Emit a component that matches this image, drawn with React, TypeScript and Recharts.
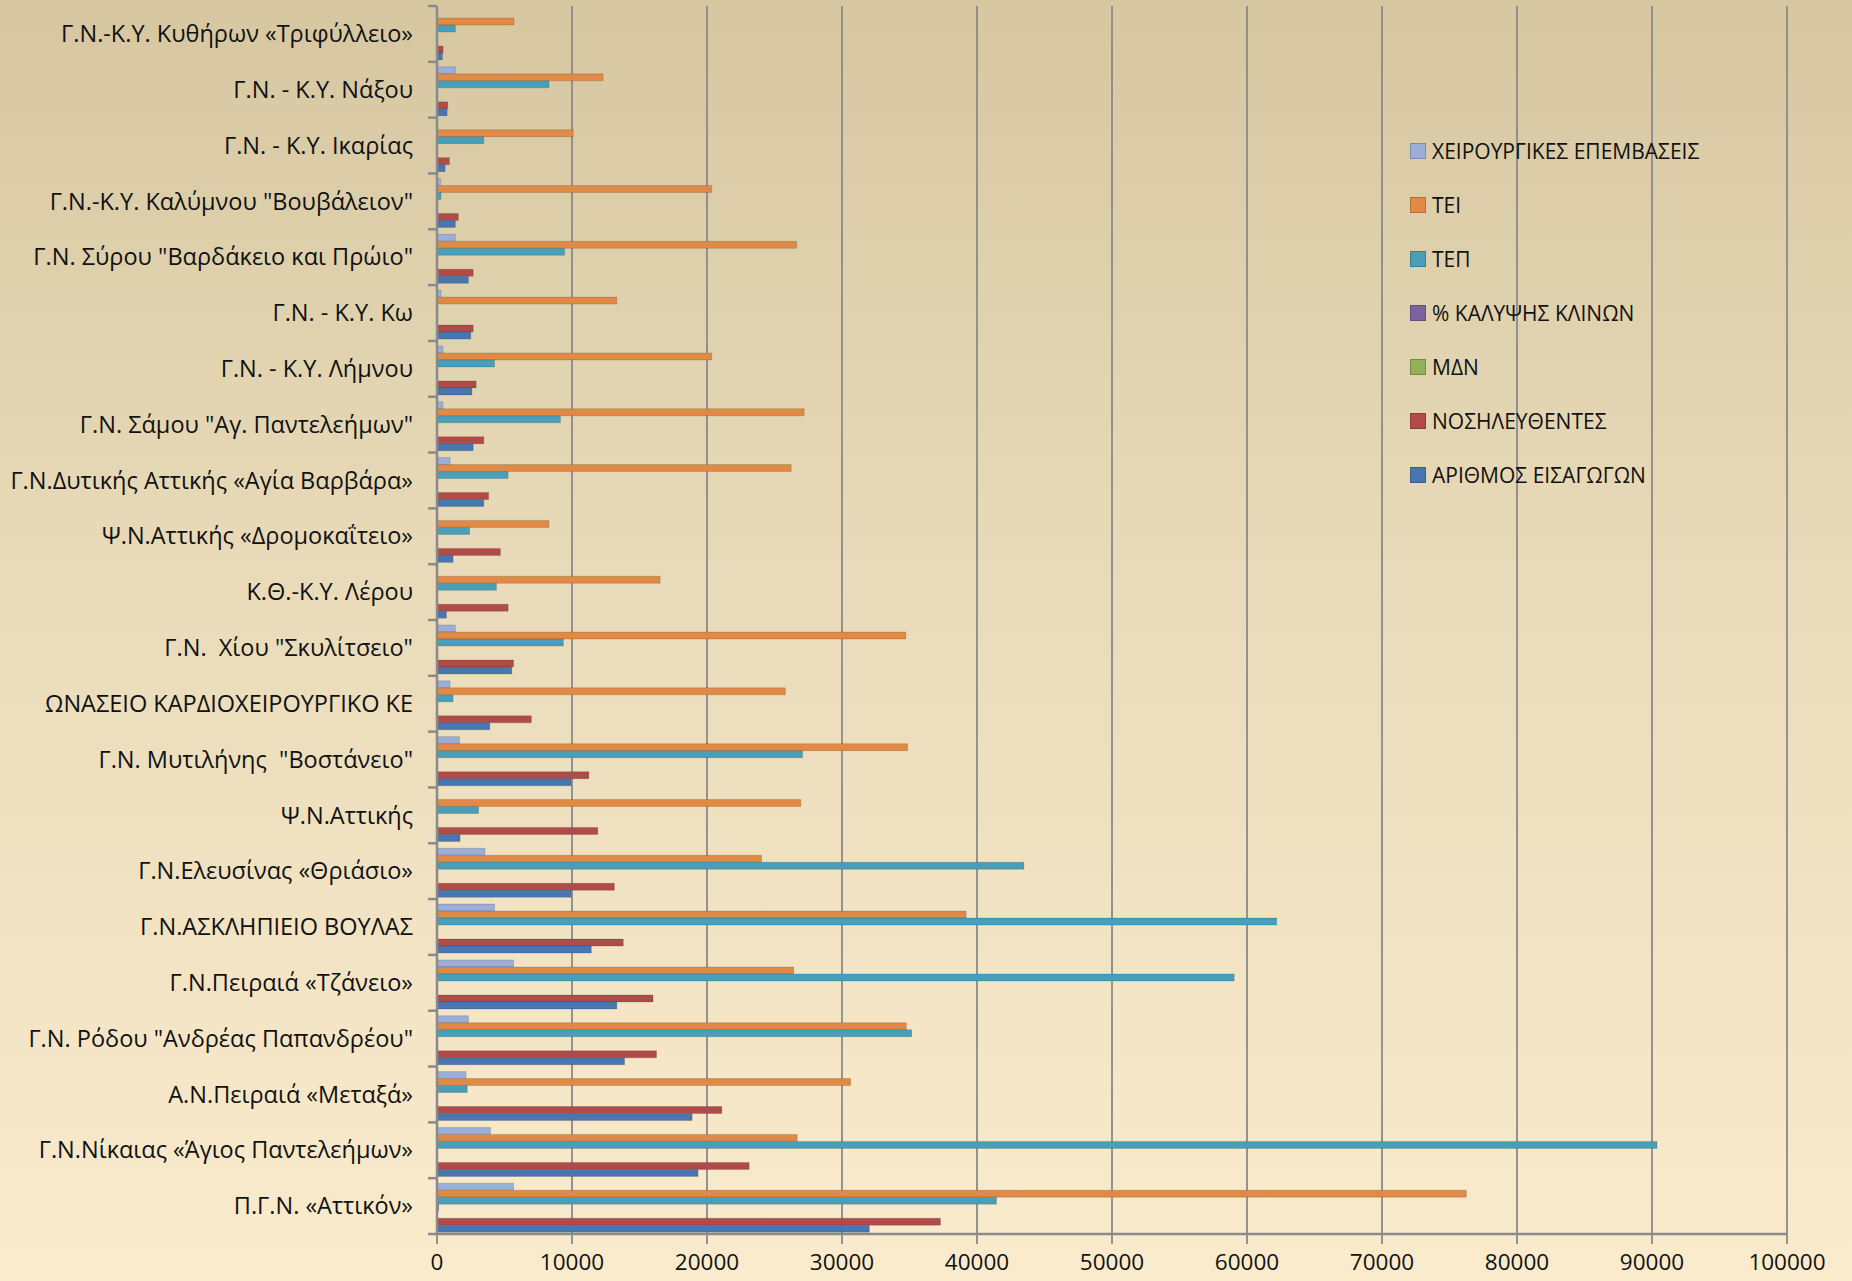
import { BarChart, Bar, XAxis, YAxis, CartesianGrid, Legend } from "recharts";

const hospitals = [
  "Γ.Ν.-Κ.Υ. Κυθήρων «Τριφύλλειο»",
  "Γ.Ν. - Κ.Υ. Νάξου",
  "Γ.Ν. - Κ.Υ. Ικαρίας",
  'Γ.Ν.-Κ.Υ. Καλύμνου "Βουβάλειον"',
  'Γ.Ν. Σύρου "Βαρδάκειο και Πρώιο"',
  "Γ.Ν. - Κ.Υ. Κω",
  "Γ.Ν. - Κ.Υ. Λήμνου",
  'Γ.Ν. Σάμου "Αγ. Παντελεήμων"',
  "Γ.Ν.Δυτικής Αττικής «Αγία Βαρβάρα»",
  "Ψ.Ν.Αττικής «Δρομοκαΐτειο»",
  "Κ.Θ.-Κ.Υ. Λέρου",
  'Γ.Ν.  Χίου "Σκυλίτσειο"',
  "ΩΝΑΣΕΙΟ ΚΑΡΔΙΟΧΕΙΡΟΥΡΓΙΚΟ ΚΕ",
  'Γ.Ν. Μυτιλήνης  "Βοστάνειο"',
  "Ψ.Ν.Αττικής",
  "Γ.Ν.Ελευσίνας «Θριάσιο»",
  "Γ.Ν.ΑΣΚΛΗΠΙΕΙΟ ΒΟΥΛΑΣ",
  "Γ.Ν.Πειραιά «Τζάνειο»",
  'Γ.Ν. Ρόδου "Ανδρέας Παπανδρέου"',
  "Α.Ν.Πειραιά «Μεταξά»",
  "Γ.Ν.Νίκαιας «Άγιος Παντελεήμων»",
  "Π.Γ.Ν. «Αττικόν»",
];

const surgeries = [0, 1360, 0, 260, 1360, 300, 440, 440, 970, 0, 0, 1360, 970, 1670, 0, 3560, 4260, 5670, 2330, 2150, 3960, 5670];
const tei = [5700, 12300, 10100, 20350, 26640, 13320, 20350, 27200, 26240, 8300, 16530, 34730, 25800, 34860, 26950, 24040, 39200, 26420, 34770, 30640, 26680, 76250];
const tep = [1360, 8300, 3470, 300, 9450, 0, 4260, 9140, 5270, 2420, 4400, 9360, 1190, 27080, 3080, 43480, 62200, 59050, 35160, 2240, 90370, 41440];
const bedCoverage = [0, 0, 0, 0, 0, 0, 0, 0, 0, 0, 0, 0, 0, 0, 0, 0, 0, 0, 0, 0, 0, 120];
const mdn = [0, 0, 0, 0, 0, 0, 0, 0, 0, 0, 0, 0, 0, 0, 0, 0, 0, 0, 0, 0, 0, 0];
const inpatients = [450, 800, 920, 1580, 2680, 2680, 2900, 3470, 3820, 4700, 5270, 5670, 6990, 11250, 11910, 13140, 13800, 16000, 16260, 21100, 23120, 37290];
const admissions = [400, 750, 600, 1360, 2330, 2500, 2590, 2680, 3470, 1190, 700, 5540, 3910, 9930, 1710, 9930, 11430, 13320, 13890, 18900, 19340, 32030];

const xTicks = [0, 10000, 20000, 30000, 40000, 50000, 60000, 70000, 80000, 90000, 100000];

const SERIES = [
  { key: "surgeries", name: "ΧΕΙΡΟΥΡΓΙΚΕΣ ΕΠΕΜΒΑΣΕΙΣ", color: "#9AAED9", values: surgeries },
  { key: "tei", name: "ΤΕΙ", color: "#E08A45", values: tei },
  { key: "tep", name: "ΤΕΠ", color: "#4A9FB8", values: tep },
  { key: "beds", name: "% ΚΑΛΥΨΗΣ ΚΛΙΝΩΝ", color: "#7D62A0", values: bedCoverage },
  { key: "mdn", name: "ΜΔΝ", color: "#93B05A", values: mdn },
  { key: "inpatients", name: "ΝΟΣΗΛΕΥΘΕΝΤΕΣ", color: "#B04B4A", values: inpatients },
  { key: "admissions", name: "ΑΡΙΘΜΟΣ ΕΙΣΑΓΩΓΩΝ", color: "#4A76B0", values: admissions },
];

const data = hospitals.map((name, i) => {
  const row: Record<string, string | number> = { name };
  SERIES.forEach((s) => {
    row[s.key] = s.values[i];
  });
  return row;
});

const WIDTH = 1852;
const HEIGHT = 1281;
const MARGIN = { top: 6, right: 65, bottom: 0, left: 0 };
const X_AXIS_H = 47;
const BAND = (HEIGHT - MARGIN.top - MARGIN.bottom - X_AXIS_H) / hospitals.length;
const FONT = "'Open Sans', 'DejaVu Sans', sans-serif";
const AXIS_GRAY = "#8a8a8a";
const TEXT = "#111";

// category label plus the Excel-style tick mark at each band boundary
function HospitalTick(props: any) {
  const { x, y, payload, index } = props;
  const half = BAND / 2;
  return (
    <g>
      <text
        x={x}
        y={y}
        dy="0.35em"
        textAnchor="end"
        fontSize={23.5}
        fill={TEXT}
        fontFamily={FONT}
        style={{ whiteSpace: "pre" }}
      >
        {payload.value}
      </text>
      <line x1={x + 15} x2={x + 24} y1={y - half} y2={y - half} stroke={AXIS_GRAY} strokeWidth={2.5} />
      {index === hospitals.length - 1 && (
        <line x1={x + 15} x2={x + 24} y1={y + half} y2={y + half} stroke={AXIS_GRAY} strokeWidth={2.5} />
      )}
    </g>
  );
}

function LegendBox() {
  return (
    <div style={{ fontFamily: FONT, fontSize: 21, color: TEXT }}>
      {SERIES.map((s) => (
        <div key={s.key} style={{ height: 54, display: "flex", alignItems: "center" }}>
          <span
            style={{
              width: 14,
              height: 14,
              background: s.color,
              border: "1px solid rgba(0,0,0,0.2)",
              marginRight: 6,
              display: "inline-block",
            }}
          />
          <span>{s.name}</span>
        </div>
      ))}
    </div>
  );
}

export default function App() {
  return (
    <div
      style={{
        position: "fixed",
        left: 0,
        top: 0,
        width: WIDTH,
        height: HEIGHT,
        background: "linear-gradient(180deg, #D6C7A1 0%, #E9DBB9 45%, #FAEBCD 100%)",
      }}
    >
      <BarChart
        width={WIDTH}
        height={HEIGHT}
        data={data}
        layout="vertical"
        margin={MARGIN}
        barCategoryGap="9%"
        barGap={0}
      >
        <CartesianGrid horizontal={false} stroke={AXIS_GRAY} strokeWidth={1.8} />
        <XAxis
          type="number"
          domain={[0, 100000]}
          ticks={xTicks}
          interval={0}
          height={X_AXIS_H}
          tickSize={10}
          tickMargin={10}
          axisLine={{ stroke: AXIS_GRAY, strokeWidth: 2.5 }}
          tickLine={{ stroke: AXIS_GRAY, strokeWidth: 1.8 }}
          tick={{ fontSize: 22.5, fill: TEXT, fontFamily: FONT }}
        />
        <YAxis
          type="category"
          dataKey="name"
          width={437}
          interval={0}
          tickSize={9}
          tickMargin={15}
          tickLine={false}
          axisLine={{ stroke: AXIS_GRAY, strokeWidth: 2.5 }}
          tick={<HospitalTick />}
        />
        <Legend
          layout="vertical"
          align="center"
          verticalAlign="middle"
          content={() => <LegendBox />}
          wrapperStyle={{ position: "absolute", left: 1410, top: 124, width: 420 }}
        />
        {SERIES.map((s) => (
          <Bar
            key={s.key}
            dataKey={s.key}
            name={s.name}
            fill={s.color}
            stroke="rgba(0,0,0,0.18)"
            strokeWidth={0.8}
            isAnimationActive={false}
          />
        ))}
      </BarChart>
    </div>
  );
}
